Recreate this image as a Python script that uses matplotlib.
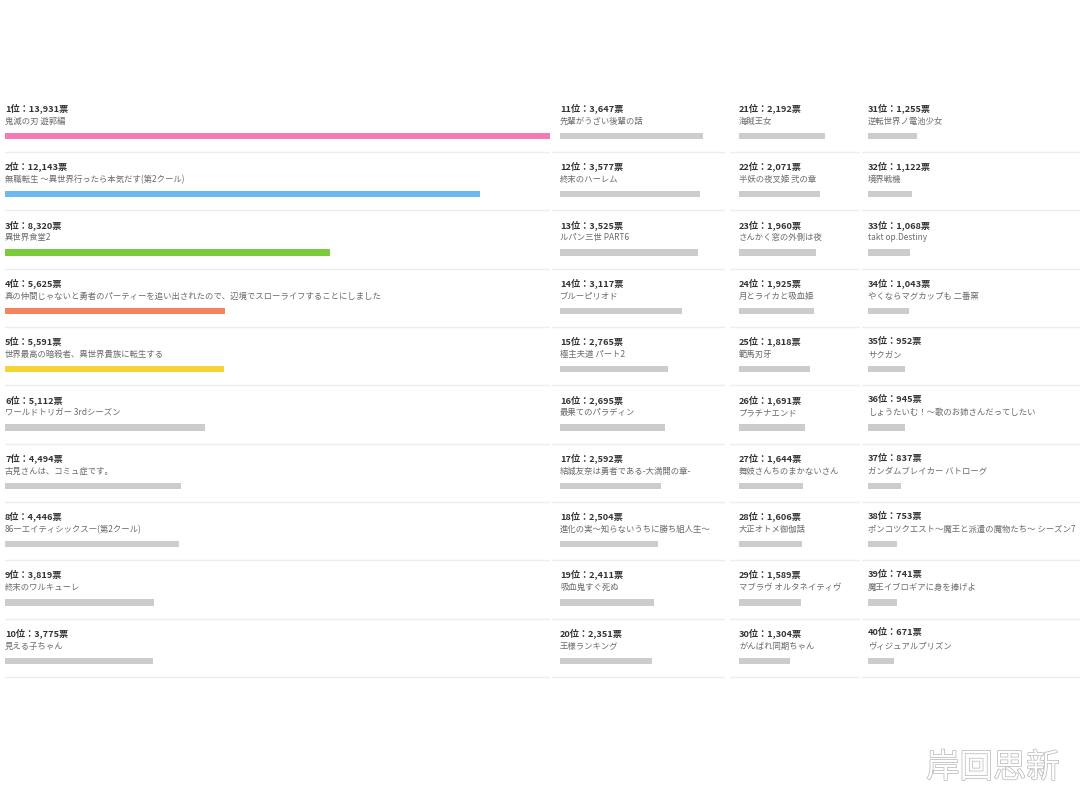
import matplotlib.pyplot as plt
import matplotlib.patheffects as pe

plt.rcParams['font.family'] = ['Noto Sans CJK JP', 'DejaVu Sans']

ranks = list(range(1, 41))
votes = [13931, 12143, 8320, 5625, 5591, 5112, 4494, 4446, 3819, 3775,
         3647, 3577, 3525, 3117, 2765, 2695, 2592, 2504, 2411, 2351,
         2192, 2071, 1960, 1925, 1818, 1691, 1644, 1606, 1589, 1304,
         1255, 1122, 1068, 1043, 952, 945, 837, 753, 741, 671]
titles = [
    "鬼滅の刃 遊郭編",
    "無職転生 ～異世界行ったら本気だす(第2クール)",
    "異世界食堂2",
    "真の仲間じゃないと勇者のパーティーを追い出されたので、辺境でスローライフすることにしました",
    "世界最高の暗殺者、異世界貴族に転生する",
    "ワールドトリガー 3rdシーズン",
    "古見さんは、コミュ症です。",
    "86―エイティシックス―(第2クール)",
    "終末のワルキューレ",
    "見える子ちゃん",
    "先輩がうざい後輩の話",
    "終末のハーレム",
    "ルパン三世 PART6",
    "ブルーピリオド",
    "極主夫道 パート2",
    "最果てのパラディン",
    "結城友奈は勇者である-大満開の章-",
    "進化の実～知らないうちに勝ち組人生～",
    "吸血鬼すぐ死ぬ",
    "王様ランキング",
    "海賊王女",
    "半妖の夜叉姫 弐の章",
    "さんかく窓の外側は夜",
    "月とライカと吸血姫",
    "範馬刃牙",
    "プラチナエンド",
    "舞妓さんちのまかないさん",
    "大正オトメ御伽話",
    "マブラヴ オルタネイティヴ",
    "がんばれ同期ちゃん",
    "逆転世界ノ電池少女",
    "境界戦機",
    "takt op.Destiny",
    "やくならマグカップも 二番窯",
    "サクガン",
    "しょうたいむ！～歌のお姉さんだってしたい",
    "ガンダムブレイカー バトローグ",
    "ポンコツクエスト～魔王と派遣の魔物たち～ シーズン7",
    "魔王イブロギアに身を捧げよ",
    "ヴィジュアルプリズン",
]
top_colors = ["#f57ab3", "#6cb9f0", "#7bcc3c", "#f5835d", "#f8d337"]
gray = "#cccccc"

W, H = 1080, 809
fig = plt.figure(figsize=(W / 100, H / 100), dpi=100)
fig.patch.set_facecolor("white")

px_per_vote = 545 / 13931
row_px = 58.33
top_px, bot_px = 95, 685
# (separator start, text start, separator end) in pixels
cols = [(5, 5, 550), (552, 560, 725), (730, 739, 860), (862, 868, 1080)]

for c, (sl, tl, sr) in enumerate(cols):
    ax = fig.add_axes([sl / W, 1 - bot_px / H, (sr - sl) / W, (bot_px - top_px) / H])
    ax.set_xlim(-(tl - sl) / px_per_vote, (sr - tl) / px_per_vote)
    ax.set_ylim((bot_px - top_px) / row_px, 0)
    ax.axis("off")
    for k in range(10):
        i = c * 10 + k
        col = top_colors[i] if i < 5 else gray
        ax.text(0, k + 0.223, f"{ranks[i]}位：{votes[i]:,}票", fontsize=6.6,
                fontweight="bold", color="#333333", va="center", ha="left")
        ax.text(0, k + 0.45, titles[i], fontsize=6.0, color="#6a6a6a",
                va="center", ha="left", clip_on=True)
        ax.barh(k + 0.70, votes[i], height=0.105, left=0, color=col)
        ax.axhline(k + 0.977, color="#ededed", lw=1)

fig.text(993 / W, 1 - 768 / H, "岸回思新", fontsize=24, color="white",
         ha="center", va="center", family=["Noto Sans CJK SC", "DejaVu Sans"],
         path_effects=[pe.withStroke(linewidth=1.0, foreground="#b5b5b5")])

fig.savefig("out.png", dpi=100, facecolor="white")
